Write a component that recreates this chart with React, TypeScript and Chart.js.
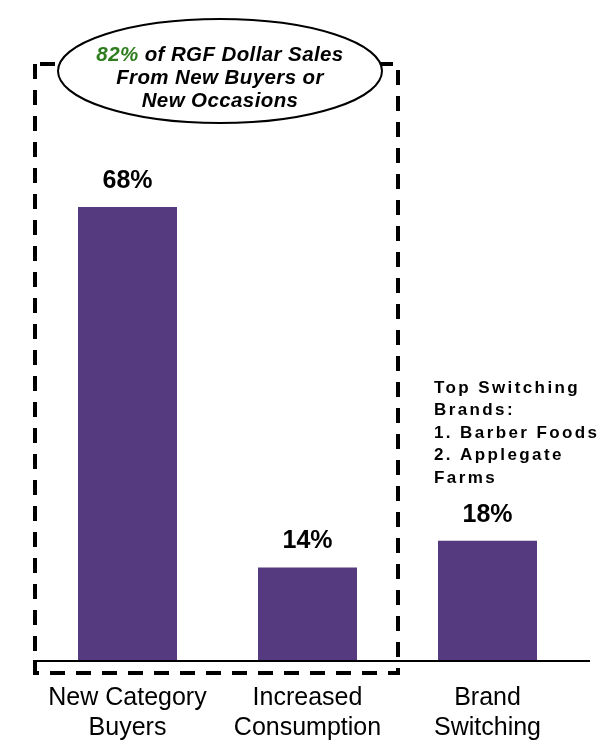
import React, { useEffect, useRef } from "react";
import { Chart, registerables } from "chart.js";

Chart.register(...registerables);

const categories: string[][] = [
  ["New Category", "Buyers"],
  ["Increased", "Consumption"],
  ["Brand", "Switching"],
];
const values: number[] = [68, 14, 18];
const valueLabels: string[] = ["68%", "14%", "18%"];
const calloutLines: string[] = ["of RGF Dollar Sales", "From New Buyers or", "New Occasions"];
const calloutHighlight = "82%";
const switchNotes: string[] = ["Top Switching", "Brands:", "1. Barber Foods", "2. Applegate", "Farms"];

const BAR_COLOR = "#553A80";
const FONT = "Arial, 'Liberation Sans', Helvetica, sans-serif";

const overlayPlugin = {
  id: "overlay",
  afterDatasetsDraw(chart: any) {
    const ctx: CanvasRenderingContext2D = chart.ctx;
    const area = chart.chartArea;
    const meta = chart.getDatasetMeta(0);
    ctx.save();

    // baseline
    ctx.strokeStyle = "#000";
    ctx.lineWidth = 2;
    ctx.beginPath();
    ctx.moveTo(33, area.bottom);
    ctx.lineTo(590, area.bottom);
    ctx.stroke();

    // value labels
    ctx.fillStyle = "#000";
    ctx.font = `bold 25px ${FONT}`;
    ctx.textAlign = "center";
    ctx.textBaseline = "middle";
    meta.data.forEach((bar: any, i: number) => {
      ctx.fillText(valueLabels[i], bar.x, bar.y - 26);
    });

    // dashed box
    ctx.setLineDash([15, 11]);
    ctx.lineWidth = 4;
    ctx.beginPath();
    ctx.moveTo(35, 64);
    ctx.lineTo(35, 673);
    ctx.lineTo(398, 673);
    ctx.lineTo(398, 64);
    ctx.closePath();
    ctx.stroke();
    ctx.setLineDash([]);

    // ellipse callout
    const cx = 220, cy = 71, rx = 162, ry = 52;
    ctx.beginPath();
    ctx.ellipse(cx, cy, rx, ry, 0, 0, Math.PI * 2);
    ctx.fillStyle = "#fff";
    ctx.fill();
    ctx.lineWidth = 2;
    ctx.strokeStyle = "#000";
    ctx.stroke();

    ctx.font = `italic bold 20.5px ${FONT}`;
    (ctx as any).letterSpacing = "0.4px";
    ctx.textBaseline = "middle";
    const first = " " + calloutLines[0];
    const w1 = ctx.measureText(calloutHighlight).width;
    const w2 = ctx.measureText(first).width;
    const startX = cx - (w1 + w2) / 2;
    ctx.textAlign = "left";
    ctx.fillStyle = "#2E7D1E";
    ctx.fillText(calloutHighlight, startX, 55);
    ctx.fillStyle = "#000";
    ctx.fillText(first, startX + w1, 55);
    ctx.textAlign = "center";
    ctx.fillText(calloutLines[1], cx, 78);
    ctx.fillText(calloutLines[2], cx, 101);

    // switching notes
    ctx.font = `bold 17px ${FONT}`;
    (ctx as any).letterSpacing = "2.4px";
    ctx.textAlign = "left";
    ctx.fillStyle = "#000";
    switchNotes.forEach((t, i) => {
      ctx.fillText(t, 434, 388 + i * 22.5);
    });
    (ctx as any).letterSpacing = "0px";

    ctx.restore();
  },
};

export default function App() {
  const ref = useRef<HTMLCanvasElement | null>(null);
  useEffect(() => {
    document.body.style.margin = "0";
    const chart = new Chart(ref.current as HTMLCanvasElement, {
      type: "bar",
      data: {
        labels: categories,
        datasets: [
          {
            data: values,
            backgroundColor: BAR_COLOR,
            borderWidth: 0,
            categoryPercentage: 1,
            barPercentage: 0.55,
          },
        ],
      },
      options: {
        animation: false,
        responsive: false,
        devicePixelRatio: 1,
        layout: { padding: { top: 60, left: 37.5, right: 34.5, bottom: 0 } },
        plugins: { legend: { display: false }, tooltip: { enabled: false } },
        scales: {
          x: {
            grid: { display: false, drawTicks: false },
            border: { display: false },
            afterFit: (scale: any) => {
              scale.height = 84;
            },
            ticks: {
              color: "#000",
              padding: 22,
              font: { family: FONT, size: 25, lineHeight: 1.2 },
              maxRotation: 0,
              autoSkip: false,
            },
          },
          y: {
            display: false,
            min: 0,
            max: 90,
          },
        },
      },
      plugins: [overlayPlugin],
    });
    return () => chart.destroy();
  }, []);
  return (
    <div style={{ width: 612, height: 745 }}>
      <canvas ref={ref} width={612} height={745} style={{ display: "block" }} />
    </div>
  );
}
